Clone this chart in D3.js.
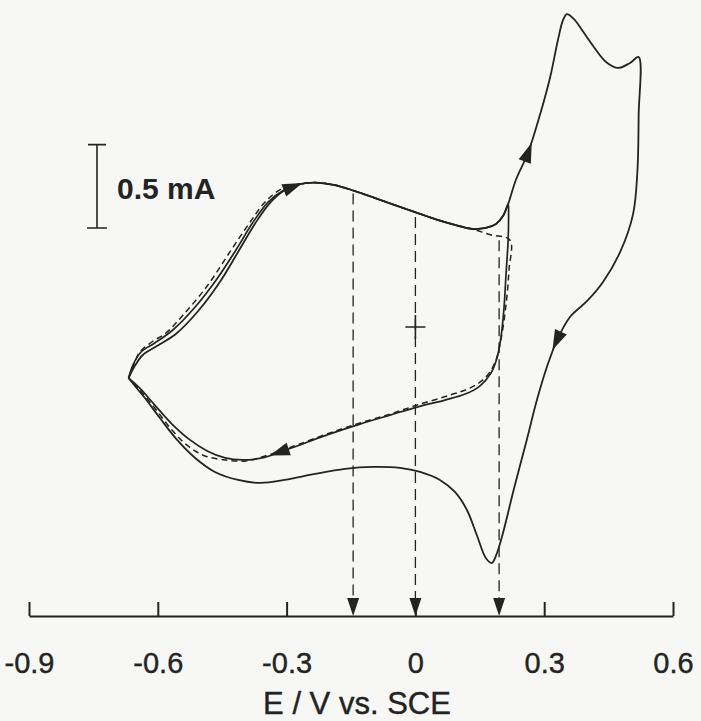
<!DOCTYPE html>
<html>
<head>
<meta charset="utf-8">
<script src="https://cdn.jsdelivr.net/npm/d3@7"></script>
<style>
  body { margin: 0; background: #f7f7f5; }
  svg { display: block; font-family: "Liberation Sans", Arial, Helvetica, sans-serif; }
</style>
</head>
<body>
<svg width="701" height="721"></svg>
<script>
// Potential in V vs SCE, current in mA (anodic up)

// wide scan, -0.67 V .. 0.52 V (solid)
const fullE = [-0.668, -0.655, -0.635, -0.602, -0.558, -0.506, -0.457, -0.413, -0.374, -0.339,
  -0.304, -0.287, -0.269, -0.234, -0.187, -0.141, -0.094, -0.048, -0.001, 0.046,
  0.092, 0.132, 0.164, 0.188, 0.204, 0.216, 0.234, 0.262, 0.290, 0.314,
  0.332, 0.344, 0.353, 0.369, 0.388, 0.414, 0.444, 0.472, 0.500, 0.520,
  0.520, 0.517, 0.507, 0.477, 0.437, 0.400, 0.360, 0.330, 0.307, 0.283,
  0.260, 0.230, 0.204, 0.190, 0.178, 0.164, 0.143, 0.120, 0.092, 0.057,
  0.011, -0.036, -0.099, -0.164, -0.234, -0.304, -0.362, -0.413, -0.467, -0.513,
  -0.555, -0.595, -0.630, -0.655, -0.668]
const fullI = [-0.306, -0.240, -0.168, -0.114, -0.042, 0.096, 0.264, 0.450, 0.618, 0.743,
  0.821, 0.839, 0.857, 0.866, 0.851, 0.815, 0.773, 0.731, 0.689, 0.647,
  0.612, 0.588, 0.594, 0.618, 0.665, 0.737, 0.881, 1.043, 1.271, 1.499,
  1.721, 1.841, 1.876, 1.847, 1.781, 1.685, 1.589, 1.553, 1.583, 1.619,
  1.271, 0.929, 0.677, 0.450, 0.270, 0.156, 0.060, -0.078, -0.234, -0.438,
  -0.671, -0.965, -1.235, -1.355, -1.415, -1.385, -1.247, -1.097, -0.989, -0.917,
  -0.869, -0.845, -0.839, -0.851, -0.881, -0.917, -0.935, -0.917, -0.869, -0.785,
  -0.677, -0.546, -0.426, -0.348, -0.306]
const fullArrows = [11, 27, 47]

// narrow scan, -0.67 V .. 0.22 V (solid)
const innerE = [-0.668, -0.658, -0.639, -0.607, -0.565, -0.513, -0.464, -0.418, -0.378, -0.343,
  -0.306, -0.269, -0.234, -0.187, -0.141, -0.094, -0.048, -0.001, 0.046, 0.092,
  0.132, 0.164, 0.188, 0.204, 0.216, 0.217, 0.216, 0.211, 0.206, 0.199,
  0.190, 0.176, 0.150, 0.116, 0.069, 0.004, -0.059, -0.129, -0.199, -0.269,
  -0.315, -0.357, -0.402, -0.443, -0.485, -0.525, -0.567, -0.607, -0.642, -0.668]
const innerI = [-0.306, -0.228, -0.150, -0.096, -0.018, 0.120, 0.282, 0.462, 0.629, 0.749,
  0.821, 0.857, 0.866, 0.851, 0.815, 0.773, 0.731, 0.689, 0.647, 0.612,
  0.588, 0.594, 0.618, 0.665, 0.737, 0.671, 0.522, 0.312, 0.102, -0.066,
  -0.186, -0.276, -0.354, -0.402, -0.438, -0.480, -0.528, -0.582, -0.641, -0.707,
  -0.749, -0.785, -0.797, -0.785, -0.743, -0.677, -0.582, -0.468, -0.366, -0.306]
const innerArrows = [40]

// narrow scan, second trace (dashed)
const dashE = [-0.668, -0.655, -0.642, -0.614, -0.581, -0.541, -0.485, -0.432, -0.385, -0.346,
  -0.308, -0.269, -0.234, -0.187, -0.141, -0.094, -0.048, -0.001, 0.046, 0.092,
  0.132, 0.176, 0.220, 0.218, 0.211, 0.199, 0.185, 0.162, 0.127, 0.081,
  0.004, -0.059, -0.129, -0.199, -0.269, -0.315, -0.357, -0.395, -0.443, -0.490,
  -0.530, -0.567, -0.607, -0.642, -0.668]
const dashI = [-0.306, -0.222, -0.150, -0.090, -0.036, 0.072, 0.246, 0.450, 0.629, 0.761,
  0.833, 0.857, 0.866, 0.851, 0.815, 0.773, 0.731, 0.689, 0.647, 0.612,
  0.588, 0.552, 0.522, 0.342, 0.132, -0.078, -0.216, -0.306, -0.366, -0.408,
  -0.468, -0.522, -0.576, -0.635, -0.701, -0.743, -0.779, -0.803, -0.797, -0.773,
  -0.713, -0.618, -0.486, -0.378, -0.306]

// potentials marked on the axis, and where their guide lines start
const markE = [-0.145, 0.0, 0.195]
const markTopI = [0.80, 0.66, 0.52]

const tickValues = [-0.9, -0.6, -0.3, 0, 0.3, 0.6]
const axisTitle = 'E / V vs. SCE'
const scaleBarValue = 0.5
const scaleBarLabel = '0.5 mA'

const ink = '#232323'
const axisY = 616

const svg = d3.select('svg')

const x = d3.scaleLinear().domain([-0.9, 0.6]).range([29, 673])
const y = d3.scaleLinear().domain([0, 1]).range([327, 327 - 166.8])

const line = d3.line()
  .x(d => x(d[0]))
  .y(d => y(d[1]))
  .curve(d3.curveCatmullRom.alpha(0.5))

// guide lines down to the axis
svg.append('g')
  .selectAll('line')
  .data(markE)
  .join('line')
  .attr('x1', d => x(d))
  .attr('x2', d => x(d))
  .attr('y1', (d, i) => y(markTopI[i]))
  .attr('y2', axisY - 16)
  .attr('stroke', ink)
  .attr('stroke-width', 1.3)
  .attr('stroke-dasharray', '11,6')

svg.append('g')
  .selectAll('path')
  .data(markE)
  .join('path')
  .attr('d', d => `M${x(d) - 6},${axisY - 18} L${x(d) + 6},${axisY - 18} L${x(d)},${axisY} Z`)
  .attr('fill', ink)

// voltammograms
const curves = [
  { pts: d3.zip(dashE, dashI), dash: '6,4', width: 1.5 },
  { pts: d3.zip(innerE, innerI), dash: null, width: 1.7 },
  { pts: d3.zip(fullE, fullI), dash: null, width: 1.8 }
]

svg.append('g')
  .selectAll('path')
  .data(curves)
  .join('path')
  .attr('d', d => line(d.pts))
  .attr('fill', 'none')
  .attr('stroke', ink)
  .attr('stroke-width', d => d.width)
  .attr('stroke-dasharray', d => d.dash)
  .attr('stroke-linejoin', 'round')

// direction arrows on the curves
function arrowData (es, is, idx) {
  return idx.map(k => {
    const a = [x(es[k - 1]), y(is[k - 1])]
    const b = [x(es[k + 1]), y(is[k + 1])]
    return {
      cx: x(es[k]),
      cy: y(is[k]),
      ang: Math.atan2(b[1] - a[1], b[0] - a[0]) * 180 / Math.PI
    }
  })
}
const arrows = arrowData(fullE, fullI, fullArrows).concat(arrowData(innerE, innerI, innerArrows))

svg.append('g')
  .selectAll('path')
  .data(arrows)
  .join('path')
  .attr('d', 'M11,0 L-9,-6.5 L-9,6.5 Z')
  .attr('transform', d => `translate(${d.cx},${d.cy}) rotate(${d.ang})`)
  .attr('fill', ink)

// zero-current cross
svg.append('path')
  .attr('d', `M${x(0) - 10},${y(0)} H${x(0) + 10} M${x(0)},${y(0) - 12} V${y(0) + 12}`)
  .attr('stroke', ink)
  .attr('stroke-width', 1.6)

// current scale bar
const barX = 97
const barBottom = 228
const barTop = barBottom - (y(0) - y(scaleBarValue))
svg.append('path')
  .attr('d', `M${barX},${barTop} V${barBottom} M${barX - 10},${barBottom} H${barX + 10} M${barX - 9},${barTop} H${barX + 9}`)
  .attr('stroke', ink)
  .attr('stroke-width', 1.6)
svg.append('text')
  .attr('x', 117)
  .attr('y', 199)
  .attr('font-size', 30)
  .attr('font-weight', 'bold')
  .attr('fill', ink)
  .text(scaleBarLabel)

// potential axis, ticks pointing up
const axis = d3.axisBottom(x)
  .tickValues(tickValues)
  .tickFormat(d => String(d))
  .tickSizeInner(-14)
  .tickSizeOuter(0)
  .tickPadding(36)

const gx = svg.append('g')
  .attr('transform', `translate(0,${axisY})`)
  .call(axis)
gx.select('.domain').attr('stroke', ink).attr('stroke-width', 2.2)
gx.selectAll('.tick line').attr('stroke', ink).attr('stroke-width', 2)
gx.selectAll('.tick text')
  .attr('font-size', 29)
  .attr('font-family', '"Liberation Sans", Arial, sans-serif')
  .attr('fill', ink)
  .attr('stroke', ink)
  .attr('stroke-width', 0.4)

svg.append('text')
  .attr('x', 357)
  .attr('y', 714)
  .attr('text-anchor', 'middle')
  .attr('font-size', 31)
  .attr('fill', ink)
  .attr('stroke', ink)
  .attr('stroke-width', 0.4)
  .text(axisTitle)
</script>
</body>
</html>
